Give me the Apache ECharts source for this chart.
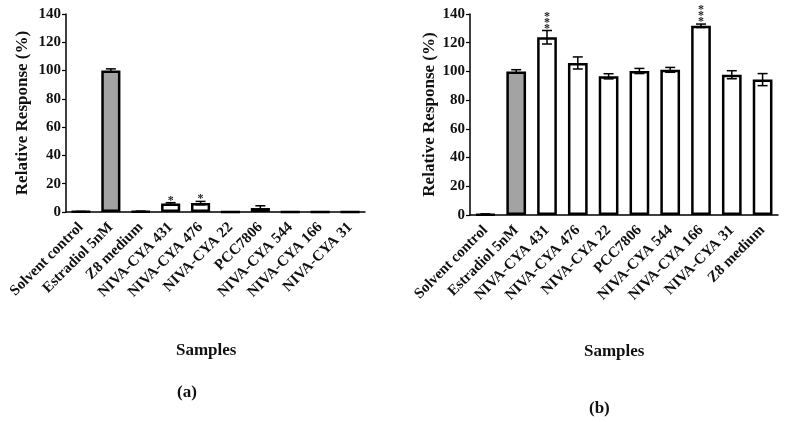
<!DOCTYPE html>
<html><head><meta charset="utf-8">
<script src="https://cdn.jsdelivr.net/npm/echarts@6/dist/echarts.min.js"></script>
<style>html,body{margin:0;padding:0;background:#fff}#c{width:790px;height:422px}</style>
</head><body><div id="c"></div>
<script>
var catsA = ['Solvent control','Estradiol 5nM','Z8 medium','NIVA-CYA 431','NIVA-CYA 476','NIVA-CYA 22','PCC7806','NIVA-CYA 544','NIVA-CYA 166','NIVA-CYA 31'];
var valsA = [0.2, 100, 0.4, 6, 6.3, 0, 2.8, 0, 0, 0];
var errA  = [0.2, 1.2, 0.2, 0.6, 1.2, 0, 1.6, 0, 0, 0];
var sigA  = ['', '', '', '*', '*', '', '', '', '', ''];

var catsB = ['Solvent control','Estradiol 5nM','NIVA-CYA 431','NIVA-CYA 476','NIVA-CYA 22','PCC7806','NIVA-CYA 544','NIVA-CYA 166','NIVA-CYA 31','Z8 medium'];
var valsB = [0.5, 100, 123.8, 105.9, 96.6, 100.3, 101.1, 131.8, 97.7, 94.3];
var errB  = [0.3, 1.2, 4.7, 4.2, 1.8, 1.8, 1.7, 1.2, 2.8, 4.2];
var sigB  = ['', '', '***', '', '', '', '', '***', '', ''];

var yTicks = [0, 20, 40, 60, 80, 100, 120, 140];
var refCat = 'Estradiol 5nM';

var FONT = '"Liberation Serif", "Times New Roman", serif';

function barData(cats, vals) {
  return vals.map(function (v, i) {
    return { value: v, itemStyle: { color: cats[i] === refCat ? '#a3a3a3' : '#ffffff' } };
  });
}
function errData(vals, errs, sigs) {
  return vals.map(function (v, i) { return [i, v, errs[i], sigs[i]]; });
}
function errRender(params, api) {
  var x = api.value(0), v = api.value(1), e = api.value(2);
  var sig = api.value(3);
  var top = api.coord([x, v + e]);
  var bot = api.coord([x, v - e]);
  var half = 5;
  var children = [];
  if (e > 0) {
    var st = { stroke: '#000', lineWidth: 1.5 };
    children.push({ type: 'line', shape: { x1: top[0], y1: top[1], x2: bot[0], y2: bot[1] }, style: st });
    children.push({ type: 'line', shape: { x1: top[0] - half, y1: top[1], x2: top[0] + half, y2: top[1] }, style: st });
    children.push({ type: 'line', shape: { x1: bot[0] - half, y1: bot[1], x2: bot[0] + half, y2: bot[1] }, style: st });
  }
  if (sig && sig !== '' && sig !== '-') {
    var n = String(sig).length;
    for (var k = 0; k < n; k++) {
      children.push({ type: 'text', style: { x: top[0], y: top[1] - 2 - k * 6, text: '*', fill: '#222', font: 'bold 12px ' + FONT, align: 'center', verticalAlign: 'middle' } });
    }
  }
  return { type: 'group', children: children };
}

var axisLineStyle = { color: '#000', width: 1.5 };
function xAx(idx, cats) {
  return {
    type: 'category', gridIndex: idx, data: cats,
    axisLine: { lineStyle: axisLineStyle },
    axisTick: { alignWithLabel: true, length: 4, lineStyle: { color: '#000', width: 1.2 } },
    axisLabel: { rotate: 45, interval: 0, margin: 13, color: '#111', fontFamily: FONT, fontWeight: 'bold', fontSize: 15 }
  };
}
function yAx(idx, gap) {
  return {
    type: 'value', gridIndex: idx, min: yTicks[0], max: yTicks[yTicks.length - 1], interval: 20,
    name: 'Relative Response (%)', nameLocation: 'middle', nameGap: gap,
    nameTextStyle: { fontFamily: FONT, fontWeight: 'bold', fontSize: 17, color: '#111' },
    axisLine: { show: true, lineStyle: axisLineStyle },
    axisTick: { show: true, length: 4, lineStyle: { color: '#000', width: 1.2 } },
    axisLabel: { margin: 5, color: '#111', fontFamily: FONT, fontWeight: 'bold', fontSize: 15 },
    splitLine: { show: false }
  };
}

var chart = echarts.init(document.getElementById('c'));
chart.setOption({
  animation: false,
  backgroundColor: '#fff',
  grid: [
    { left: 66, right: 425, top: 14, bottom: 210, containLabel: false },
    { left: 470, right: 12, top: 14, bottom: 207, containLabel: false }
  ],
  xAxis: [xAx(0, catsA), xAx(1, catsB)],
  yAxis: [yAx(0, 35), yAx(1, 29)],
  series: [
    { type: 'bar', xAxisIndex: 0, yAxisIndex: 0, data: barData(catsA, valsA), barWidth: '64%',
      itemStyle: { borderColor: '#000', borderWidth: 2.5 } },
    { type: 'custom', xAxisIndex: 0, yAxisIndex: 0, data: errData(valsA, errA, sigA), renderItem: errRender, z: 5 },
    { type: 'bar', xAxisIndex: 1, yAxisIndex: 1, data: barData(catsB, valsB), barWidth: '64%',
      itemStyle: { borderColor: '#000', borderWidth: 2.5 } },
    { type: 'custom', xAxisIndex: 1, yAxisIndex: 1, data: errData(valsB, errB, sigB), renderItem: errRender, z: 5 }
  ],
  graphic: [
    { type: 'text', left: 176, top: 342, style: { text: 'Samples', font: 'bold 17px ' + FONT, fill: '#111' } },
    { type: 'text', left: 584, top: 343, style: { text: 'Samples', font: 'bold 17px ' + FONT, fill: '#111' } },
    { type: 'text', left: 177, top: 384, style: { text: '(a)', font: 'bold 17px ' + FONT, fill: '#111' } },
    { type: 'text', left: 589, top: 400, style: { text: '(b)', font: 'bold 17px ' + FONT, fill: '#111' } }
  ]
});
</script></body></html>
